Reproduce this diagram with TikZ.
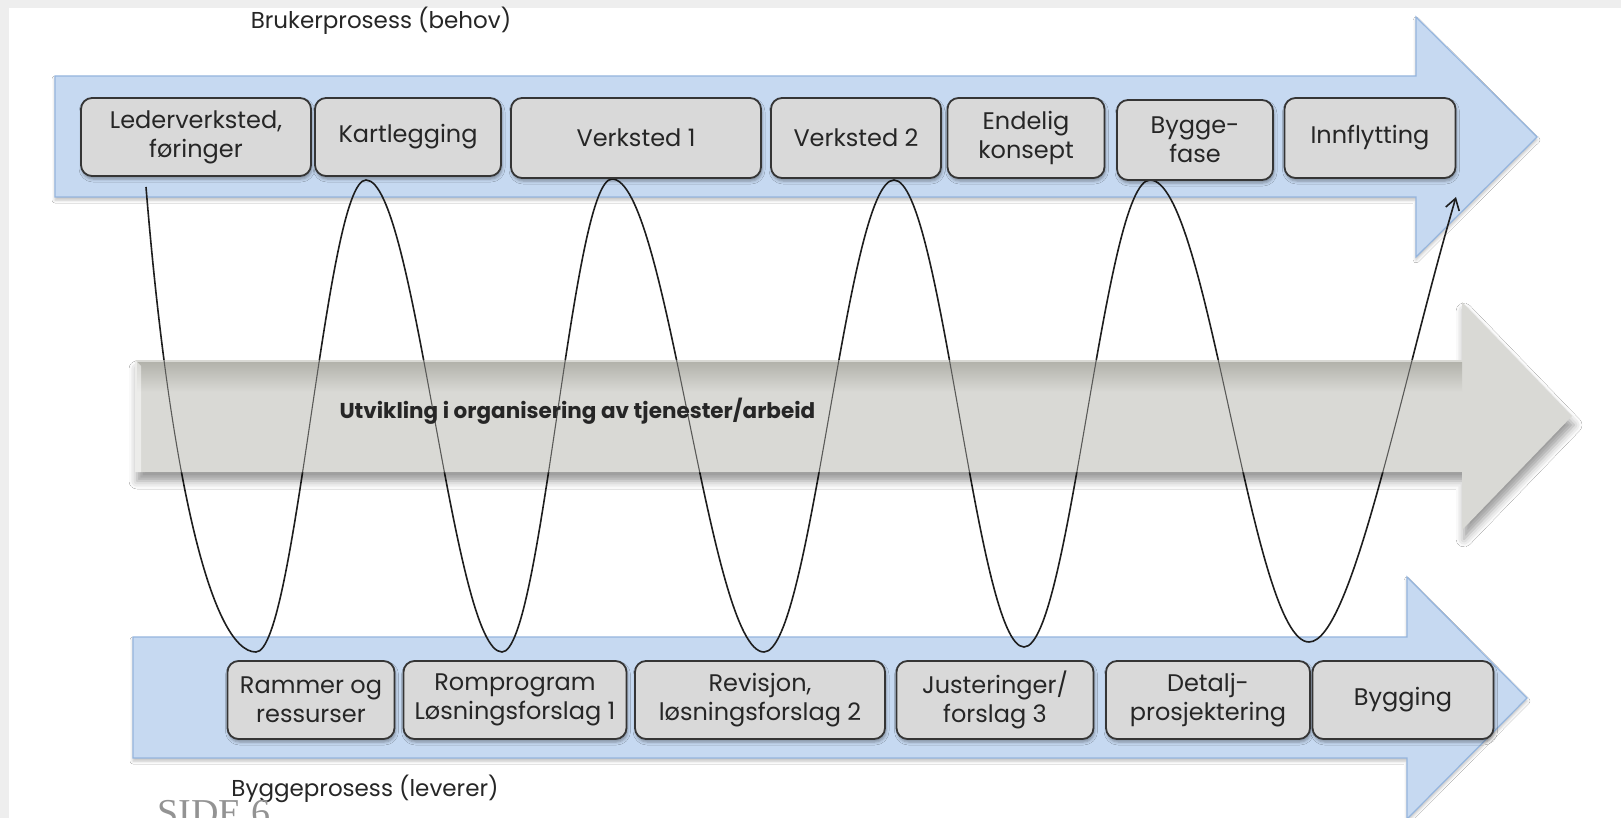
\documentclass[tikz,border=0pt]{standalone}
\usepackage{fontspec}
\setmainfont{Poppins}
\newfontfamily\sidefont{Liberation Serif}
\usepackage{xcolor}
\usepackage{tikz}
\usetikzlibrary{calc}
\usetikzlibrary{arrows.meta,positioning}
\usetikzlibrary{shadows.blur}

\definecolor{pilblaa}{HTML}{C6D9F1}
\definecolor{pilkant}{HTML}{95B5DE}
\definecolor{boksgraa}{HTML}{D9D9D9}
\definecolor{bokskant}{HTML}{353535}
\definecolor{tekstgraa}{HTML}{262626}
\definecolor{midtgraa}{HTML}{D9D9D5}
\definecolor{midtmork}{HTML}{B2B2AB}
\definecolor{kurve}{HTML}{1E1E1E}
\definecolor{kurvelys}{HTML}{5A5A58}
\definecolor{kant}{HTML}{EEEEEE}

\begin{document}
\begin{tikzpicture}[x=1pt,y=-1pt,
	fase/.style={draw=bokskant,line width=1.8pt,fill=boksgraa,rounded corners=11pt,
		minimum height=80pt,inner sep=0pt,align=center,text=tekstgraa,
		font=\fontsize{24}{29}\selectfont,
		blur shadow={shadow xshift=1pt,shadow yshift=-3pt,shadow blur radius=3pt,shadow opacity=35}},
	pil/.style={draw=pilkant,line width=1.2pt,fill=pilblaa,
		blur shadow={shadow xshift=0pt,shadow yshift=-3pt,shadow blur radius=3pt,shadow opacity=25}},
	midtpil/.style={fill=midtgraa,
		blur shadow={shadow xshift=2pt,shadow yshift=-9pt,shadow blur radius=8pt,shadow opacity=40}},
	bolge/.style={draw=kurve,line width=1.6pt,-{Straight Barb[length=11pt,width=14pt]}},
	overskrift/.style={text=tekstgraa,font=\fontsize{23}{26}\selectfont}]
	\clip (0,0) rectangle (1621,818);
	\fill[white] (0,0) rectangle (1621,818);
	\fill[kant] (0,0) rectangle (1621,8);
	\fill[kant] (0,0) rectangle (9,818);

	\draw[pil] (55,76) -- (1416,76) -- (1416,17) -- (1537,137) -- (1416,257) -- (1416,197) -- (55,197) -- cycle;
	\draw[pil] (133,637) -- (1407,637) -- (1407,577) -- (1527,698) -- (1407,819) -- (1407,758) -- (133,758) -- cycle;

	\node[overskrift] (bruker) at (381,21) {Brukerprosess (behov)};
	\node[overskrift] (bygg) at (365,789) {Byggeprosess (leverer)};
	\node[anchor=base west,text=gray!85,font=\sidefont\fontsize{38}{38}\selectfont] (side) at (154,825) {SIDE 6};

	\coordinate (start) at (146,187);
	\coordinate (b1) at (256,652);
	\coordinate (t1) at (366,180);
	\coordinate (b2) at (502,652);
	\coordinate (t2) at (612,179);
	\coordinate (b3) at (764,652);
	\coordinate (t3) at (894,180);
	\coordinate (b4) at (1024,647);
	\coordinate (t4) at (1150,180);
	\coordinate (b5) at (1309,642);
	\coordinate (slutt) at (1456,197);
	\draw[bolge,save path=\bolgesti] (start) .. controls (170,480) and (212,652) .. (b1)
		cos ($(b1)!.5!(t1)$) sin (t1)
		cos ($(t1)!.5!(b2)$) sin (b2)
		cos ($(b2)!.5!(t2)$) sin (t2)
		cos ($(t2)!.5!(b3)$) sin (b3)
		cos ($(b3)!.5!(t3)$) sin (t3)
		cos ($(t3)!.5!(b4)$) sin (b4)
		cos ($(b4)!.5!(t4)$) sin (t4)
		cos ($(t4)!.5!(b5)$) sin (b5)
		.. controls (1352,642) and (1402,380) .. (slutt);

	\fill[midtpil] (135,360) -- (1462,360) -- (1462,302) -- (1572,416) -- (1462,530) -- (1462,472) -- (135,472) -- cycle;
	\fill[top color=midtmork,bottom color=midtgraa] (137,362) rectangle (1462,392);
	\fill[white,opacity=0.5] (135,360) -- (141,366) -- (141,472) -- (135,472) -- cycle;
	\begin{scope}
		\clip (135,360) -- (1462,360) -- (1462,302) -- (1572,416) -- (1462,530) -- (1462,472) -- (135,472) -- cycle;
		\path[draw=kurvelys,line width=1.1pt,use path=\bolgesti];
	\end{scope}
	\node[font=\bfseries\fontsize{21.5}{23}\selectfont,text=tekstgraa,anchor=west] (utvikling) at (336,411) {Utvikling i organisering av tjenester/arbeid};

	\node[fase,minimum width=230pt,minimum height=78pt] (leder) at (196,137) {Lederverksted,\\føringer};
	\node[fase,minimum width=186pt,minimum height=78pt] (kart) at (408,137) {Kartlegging};
	\node[fase,minimum width=250pt] (verk1) at (636,138) {Verksted 1};
	\node[fase,minimum width=170pt] (verk2) at (856,138) {Verksted 2};
	\node[fase,minimum width=157pt] (endelig) at (1026,138) {Endelig\\konsept};
	\node[fase,minimum width=156pt] (byggefase) at (1195,140) {Bygge-\\fase};
	\node[fase,minimum width=171pt] (innflytting) at (1370,138) {Innflytting};

	\node[fase,minimum width=167pt,minimum height=78pt] (rammer) at (311,700) {Rammer og\\ressurser};
	\node[fase,minimum width=223pt,minimum height=78pt] (rom) at (515,700) {Romprogram\\Løsningsforslag 1};
	\node[fase,minimum width=250pt,minimum height=78pt] (revisjon) at (760,700) {Revisjon,\\løsningsforslag 2};
	\node[fase,minimum width=197pt,minimum height=78pt] (juster) at (995,700) {Justeringer/\\forslag 3};
	\node[fase,minimum width=204pt,minimum height=78pt] (detalj) at (1208,700) {Detalj-\\prosjektering};
	\node[fase,minimum width=181pt,minimum height=78pt] (bygging) at (1403,700) {Bygging};
\end{tikzpicture}
\end{document}
